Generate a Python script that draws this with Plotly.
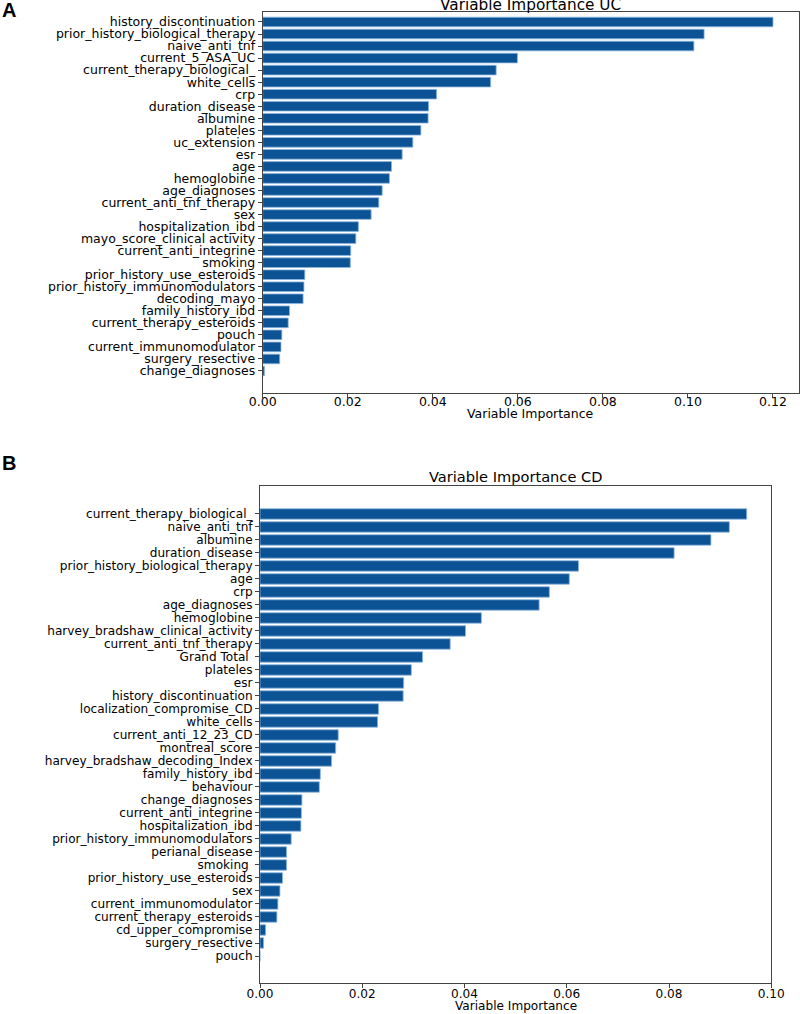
import plotly.graph_objects as go

# Panel A - Ulcerative colitis (top to bottom as shown)
uc_names = [
    "history_discontinuation", "prior_history_biological_therapy", "naive_anti_tnf",
    "current_5_ASA_UC", "current_therapy_biological_", "white_cells", "crp",
    "duration_disease", "albumine", "plateles", "uc_extension", "esr", "age",
    "hemoglobine", "age_diagnoses", "current_anti_tnf_therapy", "sex",
    "hospitalization_ibd", "mayo_score_clinical activity", "current_anti_integrine",
    "smoking", "prior_history_use_esteroids", "prior_history_immunomodulators",
    "decoding_mayo", "family_history_ibd", "current_therapy_esteroids", "pouch",
    "current_immunomodulator", "surgery_resective", "change_diagnoses",
]
uc_values = [
    0.1200, 0.1038, 0.1014, 0.0599, 0.0549, 0.0536, 0.0409, 0.0390, 0.0389, 0.0372,
    0.0353, 0.0328, 0.0303, 0.0298, 0.0281, 0.0273, 0.0255, 0.0225, 0.0219, 0.0207,
    0.0206, 0.0099, 0.0097, 0.0095, 0.0063, 0.0060, 0.0045, 0.0043, 0.0040, 0.0004,
]

# Panel B - Crohn's disease
cd_names = [
    "current_therapy_biological_", "naive_anti_tnf", "albumine", "duration_disease",
    "prior_history_biological_therapy", "age", "crp", "age_diagnoses", "hemoglobine",
    "harvey_bradshaw_clinical_activity", "current_anti_tnf_therapy", "Grand Total ",
    "plateles", "esr", "history_discontinuation", "localization_compromise_CD",
    "white_cells", "current_anti_12_23_CD", "montreal_score",
    "harvey_bradshaw_decoding_Index", "family_history_ibd", "behaviour",
    "change_diagnoses", "current_anti_integrine", "hospitalization_ibd",
    "prior_history_immunomodulators", "perianal_disease", "smoking ",
    "prior_history_use_esteroids", "sex", "current_immunomodulator",
    "current_therapy_esteroids", "cd_upper_compromise", "surgery_resective", "pouch",
]
cd_values = [
    0.0952, 0.0918, 0.0882, 0.0810, 0.0623, 0.0605, 0.0566, 0.0546, 0.0433, 0.0402,
    0.0372, 0.0318, 0.0296, 0.0281, 0.0280, 0.0232, 0.0230, 0.0153, 0.0148, 0.0140,
    0.0118, 0.0116, 0.0082, 0.0081, 0.0080, 0.0061, 0.0052, 0.0052, 0.0044, 0.0039,
    0.0035, 0.0033, 0.0011, 0.0007, 0.0,
]

x_ticks_uc = [0.0, 0.02, 0.04, 0.06, 0.08, 0.10, 0.12]
x_ticks_cd = [0.0, 0.02, 0.04, 0.06, 0.08, 0.10]

BAR = "#0b5394"
EDGE = "#8db6e0"
FONT = "DejaVu Sans"
W, H = 800, 1014


def px_x(p):
    return p / W


def px_y(p):
    return 1 - p / H


def axis_style(size):
    return dict(showline=True, mirror=True, linecolor="#444", linewidth=1,
                ticks="outside", ticklen=4, tickcolor="#444", tickwidth=1,
                showgrid=False, zeroline=False, automargin=False,
                tickfont=dict(family=FONT, size=size, color="black"))


fig = go.Figure()
fig.add_trace(go.Bar(x=uc_values[::-1], y=uc_names[::-1], orientation="h",
                     xaxis="x", yaxis="y", width=0.8, showlegend=False,
                     marker=dict(color=BAR, line=dict(color=EDGE, width=0.8))))
fig.add_trace(go.Bar(x=cd_values[::-1], y=cd_names[::-1], orientation="h",
                     xaxis="x2", yaxis="y2", width=0.8, showlegend=False,
                     marker=dict(color=BAR, line=dict(color=EDGE, width=0.8))))

fa, fb = 12.5, 12.1
fig.update_layout(
    width=W, height=H,
    margin=dict(l=0, r=0, t=0, b=0),
    paper_bgcolor="white", plot_bgcolor="white",
    font=dict(family=FONT, color="black"),
    xaxis=dict(axis_style(fa), domain=[px_x(262.7), px_x(798.5)], range=[0, 0.126],
               anchor="y", tickvals=x_ticks_uc, tickformat=".2f", ticklabelstandoff=-7),
    yaxis=dict(axis_style(fa), domain=[px_y(393), px_y(12)], range=[-1.83, 29.83],
               anchor="x", type="category", tickmode="array", tickvals=uc_names),
    xaxis2=dict(axis_style(fb), domain=[px_x(260), px_x(771.3)], range=[0, 0.10001],
                anchor="y2", tickvals=x_ticks_cd, tickformat=".2f", ticklabelstandoff=-5),
    yaxis2=dict(axis_style(fb), domain=[px_y(983.3), px_y(486)], range=[-2.1, 36.15],
                anchor="x2", type="category", tickmode="array", tickvals=cd_names),
)

# axis titles, panel titles and letters
fig.add_annotation(text="Variable Importance", xref="paper", yref="paper",
                   x=(px_x(262.7) + px_x(798.5)) / 2, y=px_y(413.5), yanchor="middle",
                   showarrow=False, font=dict(family=FONT, size=fa))
fig.add_annotation(text="Variable Importance", xref="paper", yref="paper",
                   x=(px_x(260) + px_x(771.3)) / 2, y=px_y(1006), yanchor="middle",
                   showarrow=False, font=dict(family=FONT, size=fb))
fig.add_annotation(text="Variable Importance UC", xref="paper", yref="paper",
                   x=(px_x(262.7) + px_x(798.5)) / 2, y=px_y(16), yanchor="bottom",
                   showarrow=False, font=dict(family=FONT, size=15.3))
fig.add_annotation(text="Variable Importance CD", xref="paper", yref="paper",
                   x=(px_x(260) + px_x(771.3)) / 2, y=px_y(487), yanchor="bottom",
                   showarrow=False, font=dict(family=FONT, size=14.6))
fig.add_annotation(text="<b>A</b>", xref="paper", yref="paper", x=0, y=1, yshift=3,
                   xanchor="left", yanchor="top", showarrow=False,
                   font=dict(family="Liberation Sans", size=20))
fig.add_annotation(text="<b>B</b>", xref="paper", yref="paper", x=0, y=px_y(450),
                   xanchor="left", yanchor="top", showarrow=False,
                   font=dict(family="Liberation Sans", size=20))

# drop the default page margin so the 800x1014 figure fills the window
fig.write_html("out.html", config={"displayModeBar": False},
               post_script="document.body.style.margin = '0';")
